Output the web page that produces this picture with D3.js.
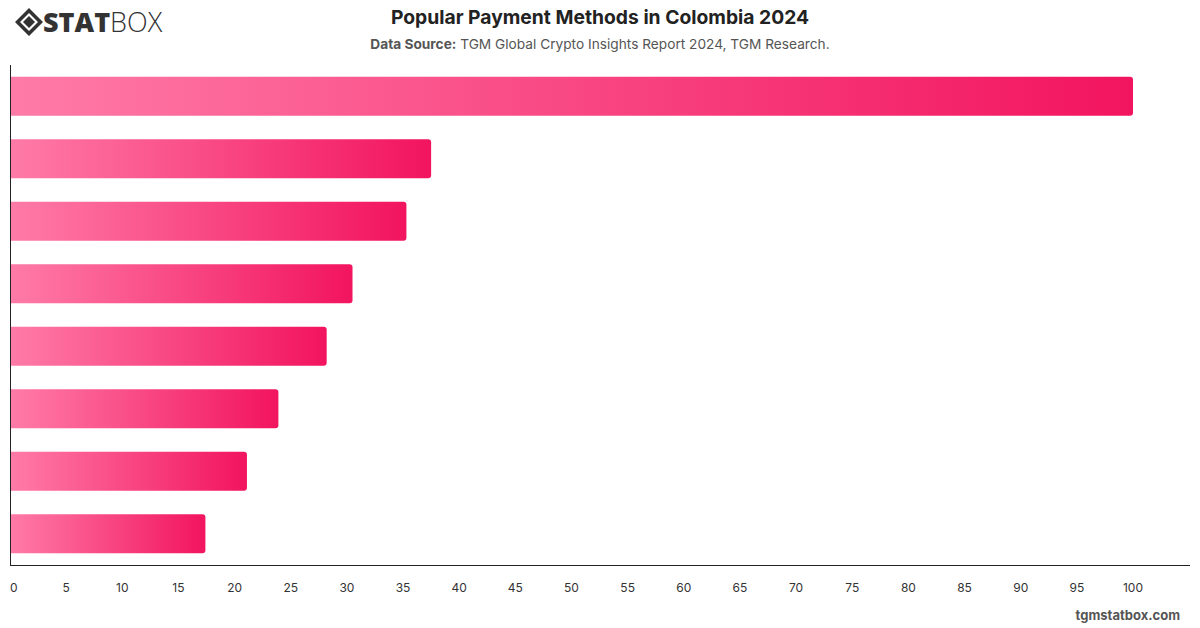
<!DOCTYPE html>
<html><head><meta charset="utf-8">
<script src="https://cdn.jsdelivr.net/npm/d3@7"></script>
<style>body{margin:0;background:#fff;}svg{display:block;font-family:Inter,"Helvetica Neue",Arial,sans-serif;}</style>
</head><body>
<svg id="c" width="1200" height="628"></svg>
<script>
const categories = ["Method 1","Method 2","Method 3","Method 4","Method 5","Method 6","Method 7","Method 8"];
const values = [100, 37.5, 35.3, 30.5, 28.2, 23.9, 21.1, 17.4];
const tickValues = d3.range(0, 101, 5);
const title = "Popular Payment Methods in Colombia 2024";
const sourceLabel = "Data Source:";
const sourceText = " TGM Global Crypto Insights Report 2024, TGM Research.";

const svg = d3.select("#c");
const m = {left:10, right:1190, top:65, bottom:565};
const x = d3.scaleLinear().domain([0,100]).range([m.left, 1133]);
const y = d3.scaleBand().domain(categories).range([m.top, m.bottom]).paddingInner(0.375).paddingOuter(0.1875);

const defs = svg.append("defs");
const g = defs.append("linearGradient").attr("id","bg").attr("x1","0").attr("x2","1").attr("y1","0").attr("y2","0");
g.append("stop").attr("offset","0").attr("stop-color","#ff7ba7");
g.append("stop").attr("offset","1").attr("stop-color","#f2145f");

svg.append("g").selectAll("path").data(values).join("path")
  .attr("fill","url(#bg)")
  .attr("d",(d,i)=>{
    const x0=x(0), x1=x(d), y0=y(categories[i]), h=y.bandwidth(), r=3;
    return `M${x0},${y0}H${x1-r}Q${x1},${y0} ${x1},${y0+r}V${y0+h-r}Q${x1},${y0+h} ${x1-r},${y0+h}H${x0}Z`;
  });

svg.append("line").attr("x1",m.left+0.5).attr("x2",m.left+0.5).attr("y1",m.top).attr("y2",m.bottom).attr("stroke","#222").attr("stroke-width",1);
svg.append("line").attr("x1",m.left).attr("x2",m.right).attr("y1",m.bottom+0.5).attr("y2",m.bottom+0.5).attr("stroke","#222").attr("stroke-width",1);
svg.append("g").selectAll("text").data(tickValues).join("text")
  .attr("x",d=>x(d)).attr("y",592)
  .attr("text-anchor",d=>d===0?"start":"middle")
  .attr("font-size",12).attr("fill","#333").text(d=>d);

svg.append("text").attr("x",600).attr("y",24).attr("text-anchor","middle").attr("font-size",19.3).attr("font-weight",700).attr("fill","#222").text(title);
const st = svg.append("text").attr("x",600).attr("y",49).attr("text-anchor","middle").attr("font-size",13.7).attr("fill","#555");
st.append("tspan").attr("font-weight",700).text(sourceLabel);
st.append("tspan").text(sourceText);

svg.append("text").attr("x",1180).attr("y",620).attr("text-anchor","end").attr("font-size",13).attr("font-weight",700).attr("fill","#555").text("tgmstatbox.com");

const lg = svg.append("g").attr("transform","translate(15,8)");
lg.append("path").attr("d","M14,0 L28,14 L14,28 L0,14 Z M14,5 L23,14 L14,23 L5,14 Z").attr("fill","#333").attr("fill-rule","evenodd");
lg.append("path").attr("d","M14,8 L20,14 L14,20 L8,14 Z").attr("fill","#333");
const lt = lg.append("text").attr("x",28).attr("y",24).attr("font-size",27).attr("fill","#333").attr("font-family","'Open Sans',Arial,sans-serif");
lt.append("tspan").attr("font-weight",800).text("STAT");
lt.append("tspan").attr("font-weight",300).text("BOX");
</script>
</body></html>
